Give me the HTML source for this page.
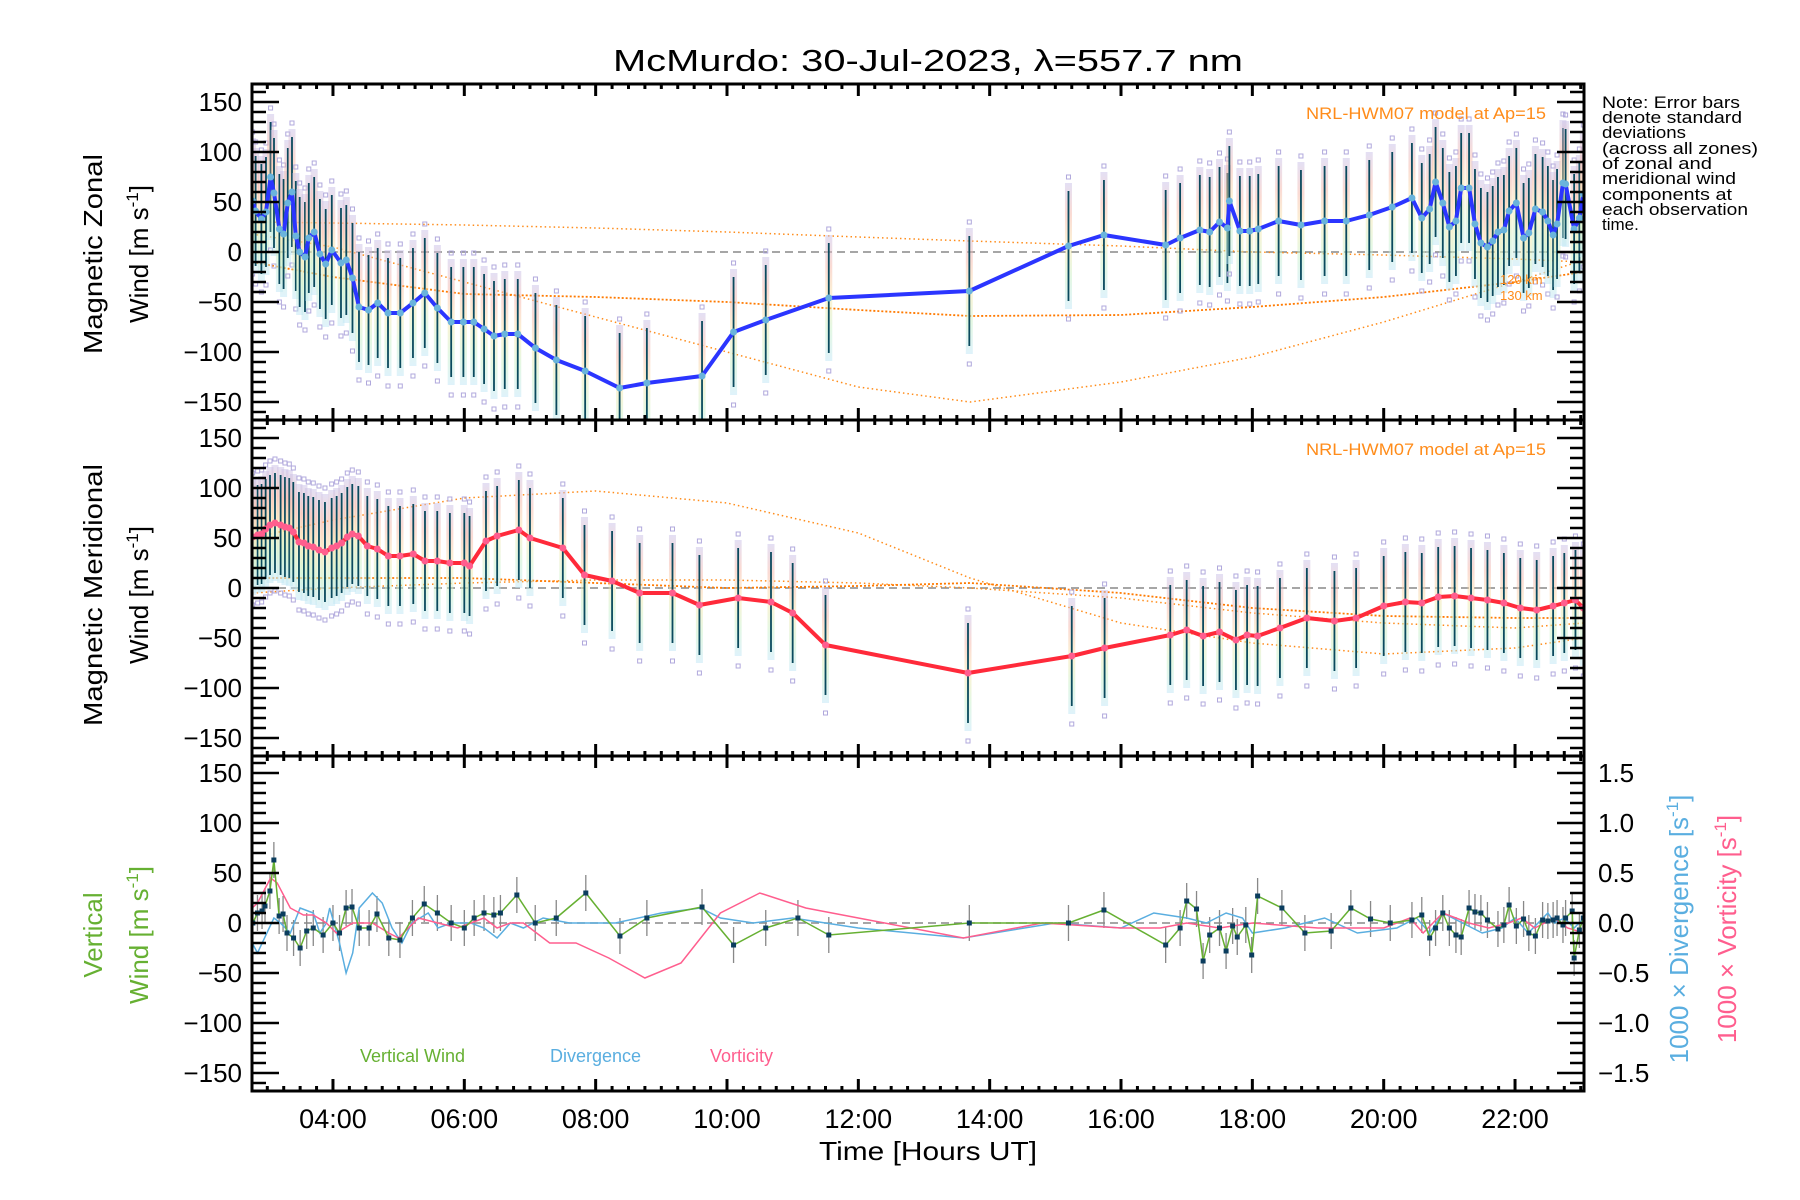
<!DOCTYPE html>
<html><head><meta charset="utf-8"><style>
html,body{margin:0;padding:0;background:#fff;}
svg{display:block;font-family:"Liberation Sans",sans-serif;}
</style></head><body>
<svg id="chart" width="1800" height="1200" viewBox="0 0 1800 1200" xmlns="http://www.w3.org/2000/svg">
<defs>
<linearGradient id="pastel" x1="0" y1="0" x2="0" y2="1">
<stop offset="0" stop-color="#c8c0e8"/><stop offset="0.25" stop-color="#f6b6a8"/><stop offset="0.5" stop-color="#f8e6a8"/><stop offset="0.75" stop-color="#c8f0c8"/><stop offset="1" stop-color="#bfe6f6"/>
</linearGradient>
<clipPath id="c1"><rect x="252" y="84" width="1332" height="336"/></clipPath>
<clipPath id="c2"><rect x="252" y="420" width="1332" height="336"/></clipPath>
<clipPath id="c3"><rect x="252" y="756" width="1332" height="335"/></clipPath>
</defs>
<text x="928" y="71" font-size="31" text-anchor="middle" textLength="630" lengthAdjust="spacingAndGlyphs">McMurdo: 30-Jul-2023, λ=557.7 nm</text>
<g id="g1" clip-path="url(#c1)"></g>
<g id="g2" clip-path="url(#c2)"></g>
<g id="g3" clip-path="url(#c3)"></g>
<g id="axes"></g>
<text x="1546" y="119" font-size="17" fill="#ff8c1a" text-anchor="end" textLength="240" lengthAdjust="spacingAndGlyphs">NRL-HWM07 model at Ap=15</text>
<text x="1546" y="455" font-size="17" fill="#ff8c1a" text-anchor="end" textLength="240" lengthAdjust="spacingAndGlyphs">NRL-HWM07 model at Ap=15</text>
<text x="1500" y="284" font-size="13" fill="#ff8c1a">120 km</text>
<text x="1500" y="300" font-size="13" fill="#ff8c1a">130 km</text>
<g font-size="17" fill="#000">
<text x="1602" y="108" textLength="138" lengthAdjust="spacingAndGlyphs">Note: Error bars</text>
<text x="1602" y="123" textLength="140" lengthAdjust="spacingAndGlyphs">denote standard</text>
<text x="1602" y="138" textLength="84" lengthAdjust="spacingAndGlyphs">deviations</text>
<text x="1602" y="154" textLength="156" lengthAdjust="spacingAndGlyphs">(across all zones)</text>
<text x="1602" y="169" textLength="110" lengthAdjust="spacingAndGlyphs">of zonal and</text>
<text x="1602" y="184" textLength="134" lengthAdjust="spacingAndGlyphs">meridional wind</text>
<text x="1602" y="200" textLength="130" lengthAdjust="spacingAndGlyphs">components at</text>
<text x="1602" y="215" textLength="146" lengthAdjust="spacingAndGlyphs">each observation</text>
<text x="1602" y="230">time.</text>
</g>
<text transform="translate(102,254) rotate(-90)" font-size="26" text-anchor="middle" textLength="200" lengthAdjust="spacingAndGlyphs">Magnetic Zonal</text>
<text transform="translate(148,254) rotate(-90)" font-size="26" text-anchor="middle">Wind [m s<tspan font-size="17" dy="-10">-1</tspan><tspan dy="10">]</tspan></text>
<text transform="translate(102,595) rotate(-90)" font-size="26" text-anchor="middle" textLength="262" lengthAdjust="spacingAndGlyphs">Magnetic Meridional</text>
<text transform="translate(148,595) rotate(-90)" font-size="26" text-anchor="middle">Wind [m s<tspan font-size="17" dy="-10">-1</tspan><tspan dy="10">]</tspan></text>
<text transform="translate(102,935) rotate(-90)" font-size="26" text-anchor="middle" fill="#66b032">Vertical</text>
<text transform="translate(148,935) rotate(-90)" font-size="26" text-anchor="middle" fill="#66b032">Wind [m s<tspan font-size="17" dy="-10">-1</tspan><tspan dy="10">]</tspan></text>
<text transform="translate(1688,929) rotate(-90)" font-size="26" text-anchor="middle" fill="#5aaee0">1000 × Divergence [s<tspan font-size="17" dy="-10">-1</tspan><tspan dy="10">]</tspan></text>
<text transform="translate(1736,929) rotate(-90)" font-size="26" text-anchor="middle" fill="#ff5e8e">1000 × Vorticity [s<tspan font-size="17" dy="-10">-1</tspan><tspan dy="10">]</tspan></text>
<text x="360" y="1062" font-size="18" fill="#66b032">Vertical Wind</text>
<text x="550" y="1062" font-size="18" fill="#5aaee0">Divergence</text>
<text x="710" y="1062" font-size="18" fill="#ff5e8e">Vorticity</text>
<text x="928" y="1160" font-size="26" text-anchor="middle" textLength="218" lengthAdjust="spacingAndGlyphs">Time [Hours UT]</text>
</svg>
<script>
// ---- data ----
const zonalT = [2.776,2.822,2.910,2.980,3.050,3.102,3.184,3.248,3.312,3.376,3.434,3.493,3.574,3.632,3.714,3.801,3.889,3.982,4.122,4.203,4.297,4.396,4.541,4.681,4.838,5.025,5.218,5.398,5.590,5.800,5.986,6.144,6.301,6.452,6.616,6.814,7.083,7.402,7.84,8.365,8.78,9.62,10.10,10.59,11.55,13.69,15.2,15.74,16.68,16.9,17.2,17.35,17.5,17.62,17.65,17.81,17.96,18.09,18.40,18.74,19.10,19.43,19.78,20.13,20.43,20.58,20.70,20.79,20.90,21.00,21.10,21.18,21.30,21.39,21.48,21.58,21.66,21.74,21.83,21.91,22.02,22.13,22.21,22.31,22.42,22.50,22.58,22.64,22.73,22.77,22.90,22.98,23.04];
const zonalV = [51,41,33,40,75,59,23,18,49,60,16,0,-5,14,20,-2,-12,2,-11,-8,-26,-55,-58,-51,-61,-61,-51,-41,-56,-70,-70,-70,-77,-84,-82,-82,-96,-108,-119,-136,-131,-124,-80,-68,-46,-39,6,17,7,14,22,20,30,24,51,21,21,23,31,27,31,31,37,45,54,34,43,70,49,25,31,64,64,28,9,5,11,20,22,41,49,14,19,43,40,31,17,28,69,68,23,34,58];
const meridT = [2.777,2.853,2.914,2.975,3.041,3.117,3.203,3.269,3.335,3.396,3.482,3.558,3.624,3.700,3.787,3.878,3.980,4.056,4.132,4.218,4.294,4.386,4.523,4.675,4.843,5.020,5.223,5.401,5.588,5.78,6.0,6.08,6.33,6.5,6.83,7.0,7.5,7.83,8.25,8.67,9.17,9.58,10.17,10.67,11.0,11.5,13.67,15.25,15.75,16.75,17.0,17.25,17.5,17.75,17.92,18.08,18.42,18.83,19.25,19.58,20.0,20.33,20.58,20.83,21.08,21.33,21.58,21.83,22.08,22.33,22.58,22.75,22.92,23.04];
const meridV = [51,53,54,59,63,65,63,61,60,56,46,45,42,41,38,36,40,42,45,51,54,52,42,39,32,32,34,27,27,25,25,22,47,52,58,50,40,13,7,-5,-5,-17,-10,-14,-25,-57,-85,-68,-60,-47,-42,-48,-44,-52,-47,-48,-40,-30,-33,-30,-18,-14,-15,-9,-8,-10,-12,-15,-20,-22,-18,-15,-12,-20];
const vertT = [2.78,2.85,2.92,2.965,3.04,3.10,3.18,3.24,3.3,3.4,3.5,3.6,3.7,3.85,4.0,4.1,4.2,4.29,4.4,4.55,4.67,4.85,5.02,5.21,5.39,5.59,5.8,6.0,6.15,6.3,6.45,6.55,6.8,7.08,7.4,7.85,8.37,8.78,9.62,10.1,10.59,11.08,11.55,13.69,15.2,15.74,16.68,16.9,17.0,17.15,17.25,17.35,17.5,17.6,17.7,17.77,17.9,17.99,18.08,18.45,18.8,19.2,19.5,19.8,20.1,20.43,20.58,20.7,20.79,20.9,21.0,21.1,21.18,21.3,21.39,21.48,21.58,21.74,21.83,21.91,22.02,22.13,22.21,22.31,22.42,22.5,22.58,22.64,22.73,22.77,22.87,22.9,22.98,23.04];
const vertV = [0,10,12,17,32,63,7,9,-10,-15,-25,-8,-5,-12,0,-10,15,16,-5,-5,9,-15,-17,5,19,10,0,-5,5,10,8,10,28,0,5,30,-13,5,16,-22,-5,5,-12,0,0,13,-22,-5,22,14,-38,-12,-5,-28,-3,-14,-2,-32,27,15,-10,-8,15,4,0,3,8,-15,-5,10,-5,-12,-14,15,11,10,3,-6,-2,18,-3,4,-10,-13,3,2,3,5,-2,5,12,-35,-7,5];
const divT = [2.77,2.85,3.1,3.2,3.35,3.5,3.7,3.8,3.9,3.95,4.1,4.2,4.3,4.4,4.6,4.75,4.9,5.05,5.2,5.45,5.6,5.8,6.1,6.3,6.5,6.7,6.9,7.2,7.6,8.3,9.0,9.6,9.9,10.4,11.0,12.0,13.6,15.0,16.0,16.5,17.0,17.3,17.6,17.85,18.0,18.5,19.1,19.6,20.2,20.5,20.7,20.9,21.2,21.5,21.8,22.0,22.2,22.5,22.6,22.75,22.9,23.05];
const divV = [-0.20,-0.30,0.05,0,-0.10,0.15,0.10,-0.10,0,0.15,-0.20,-0.50,-0.30,0.15,0.30,0.20,-0.05,-0.20,0,0.10,-0.05,0,0,-0.05,-0.15,0,-0.05,0.05,0,0,0.10,0.15,0.05,0,0.05,-0.05,-0.15,0,-0.05,0.10,0.05,0,0.10,0.05,-0.10,-0.05,0.05,-0.10,-0.05,0.05,-0.10,0.10,0,-0.10,-0.05,0.05,-0.10,0.10,0,0.05,-0.05,0.05];
const vorT = [2.77,2.85,3.05,3.15,3.35,3.55,3.7,3.9,4.05,4.3,4.6,4.85,5.0,5.3,5.6,5.9,6.1,6.3,6.5,6.7,6.9,7.3,7.7,8.2,8.75,9.3,9.9,10.5,11.2,12.0,13.6,14.8,16.0,16.6,17.0,17.5,18.0,19.0,20.0,20.4,20.6,20.9,21.3,21.6,21.9,22.1,22.3,22.6,22.8,23.05];
const vorV = [0.15,0.20,0.45,0.40,0.15,0.08,0.08,0,-0.10,0,0,-0.10,-0.15,0.05,0,-0.05,0,0.05,-0.05,0,0,-0.20,-0.20,-0.35,-0.55,-0.40,0.10,0.30,0.15,0.05,-0.15,0,-0.05,-0.05,0,-0.05,0,-0.05,-0.05,0.05,-0.10,0.10,0,-0.05,0,0.05,-0.05,0.05,-0.05,-0.10];
const modelT = [2.77,4,6,8,10,12,13.7,16,18,20,22,23.05];
const zModelA = [30,29,27,24,20,15,11,6,0,-3,-7,-10];
const zModelB = [18,5,-30,-65,-100,-135,-150,-130,-105,-70,-30,-8];
const zModelC = [-10,-25,-42,-45,-50,-58,-64,-63,-55,-45,-30,-20];
const mModelA = [50,68,90,97,85,55,10,-35,-55,-66,-60,-50];
const mModelB = [-5,0,5,8,8,5,0,-10,-25,-35,-40,-35];
const mModelC = [10,10,10,5,0,2,5,-5,-20,-28,-30,-30];
const errZonal = 55, errMerid = 50, errVert = 18;
const xTickHours = [4,6,8,10,12,14,16,18,20,22];
const xTickLabels = ["04:00","06:00","08:00","10:00","12:00","14:00","16:00","18:00","20:00","22:00"];
const yTickValues = [150,100,50,0,-50,-100,-150];
const yTickLabels = ["150","100","50","0","\u221250","\u2212100","\u2212150"];
const rTickValues = [1.5,1.0,0.5,0.0,-0.5,-1.0,-1.5];
const rTickLabels = ["1.5","1.0","0.5","0.0","\u22120.5","\u22121.0","\u22121.5"];

// ---- scales ----
const X0=252, X1=1584, T0=2.767, PXH=65.67;
const panelTop=[84,420,756], panelBot=[420,756,1091], zeroY=[252,588,923];
function xs(t){return X0+(t-T0)*PXH;}
function ys(p,v){return zeroY[p]-v;}
const NS="http://www.w3.org/2000/svg";
function mk(tag,parent,attrs){const e=document.createElementNS(NS,tag);for(const k in attrs)e.setAttribute(k,attrs[k]);parent.appendChild(e);return e;}
const g=[document.getElementById('g1'),document.getElementById('g2'),document.getElementById('g3')];
const axes=document.getElementById('axes');

for(let p=0;p<3;p++){
  const l=mk('line',g[p],{x1:X0,x2:X1,y1:ys(p,0),y2:ys(p,0),stroke:'#888',"stroke-width":1.5,"stroke-dasharray":"8,5"});
  
  
}

function polyline(p,T,V,scale,attrs,name){
  const pts=T.map((t,i)=>xs(t).toFixed(1)+","+ys(p,V[i]*scale).toFixed(1)).join(" ");
  const e=mk('polyline',g[p],Object.assign({points:pts,fill:'none'},attrs));
  
  
  return e;
}
polyline(0,modelT,zModelA,1,{stroke:'#ff8c1a',"stroke-width":1.5,"stroke-dasharray":"1.5,3"},'model-zonal-a');
polyline(0,modelT,zModelB,1,{stroke:'#ff8c1a',"stroke-width":1.5,"stroke-dasharray":"1.5,3"},'model-zonal-b');
polyline(0,modelT,zModelC,1,{stroke:'#ff7a00',"stroke-width":1.8,"stroke-dasharray":"2,2"},'model-zonal-c');
polyline(1,modelT,mModelA,1,{stroke:'#ff8c1a',"stroke-width":1.5,"stroke-dasharray":"1.5,3"},'model-meridional-a');
polyline(1,modelT,mModelB,1,{stroke:'#ff8c1a',"stroke-width":1.5,"stroke-dasharray":"1.5,3"},'model-meridional-b');
polyline(1,modelT,mModelC,1,{stroke:'#ff7a00',"stroke-width":1.8,"stroke-dasharray":"2,2"},'model-meridional-c');

function errorStack(p,T,V,err,name){
  T.forEach((t,i)=>{
    const x=xs(t), v=V[i];
    const r=mk('rect',g[p],{x:x-3.5,y:ys(p,v+err+8),width:7,height:2*err+16,fill:'url(#pastel)',opacity:0.5});
    
    
    const s1=mk('rect',g[p],{x:x-2,y:ys(p,v+err+16),width:4,height:4,fill:'none',stroke:'#b0a8dc',"stroke-width":1});
    
    
    const s2=mk('rect',g[p],{x:x-2,y:ys(p,v-err-16),width:4,height:4,fill:'none',stroke:'#b0a8dc',"stroke-width":1});
    
    
    const l=mk('line',g[p],{x1:x,x2:x,y1:ys(p,v+err),y2:ys(p,v-err),stroke:'#0b4a5e',"stroke-width":1.8});
    
    
  });
}
errorStack(0,zonalT,zonalV,errZonal,'zonal');
errorStack(1,meridT,meridV,errMerid,'meridional');

function markers(p,T,V,fill,r,name){
  T.forEach((t,i)=>{
    const c=mk('circle',g[p],{cx:xs(t),cy:ys(p,V[i]),r:r,fill:fill});
    
    
  });
}
polyline(0,zonalT,zonalV,1,{stroke:'#2b35ff',"stroke-width":4,"stroke-linejoin":"round"},'zonal-wind-line');
markers(0,zonalT,zonalV,'#6ab4dc',3.5,'zonal-point');
polyline(1,meridT,meridV,1,{stroke:'#ff2a3a',"stroke-width":4,"stroke-linejoin":"round"},'meridional-wind-line');
markers(1,meridT,meridV,'#ff5e8e',3.5,'meridional-point');

vertT.forEach((t,i)=>{
  const l=mk('line',g[2],{x1:xs(t),x2:xs(t),y1:ys(2,vertV[i]+errVert),y2:ys(2,vertV[i]-errVert),stroke:'#888',"stroke-width":1.3});
  
  
});
polyline(2,divT,divV,100,{stroke:'#5aaee0',"stroke-width":1.5},'divergence-line');
polyline(2,vorT,vorV,100,{stroke:'#ff5e8e',"stroke-width":1.5},'vorticity-line');
polyline(2,vertT,vertV,1,{stroke:'#66b032',"stroke-width":1.5},'vertical-wind-line');
vertT.forEach((t,i)=>{
  const r=mk('rect',g[2],{x:xs(t)-2.5,y:ys(2,vertV[i])-2.5,width:5,height:5,fill:'#0b3d5e'});
  
  
});

function ln(x1,y1,x2,y2,w,name){
  const l=mk('line',axes,{x1:x1,y1:y1,x2:x2,y2:y2,stroke:'#000',"stroke-width":w});
  
  
}
for(let p=0;p<3;p++){
  const top=panelTop[p], bot=panelBot[p];
  ln(X0,top,X1,top,3,'panel-top-axis');
  ln(X0,bot,X1,bot,3,'panel-bottom-axis');
  ln(X0,top-1.5,X0,bot+1.5,3,'panel-left-axis');
  ln(X1,top-1.5,X1,bot+1.5,3,'panel-right-axis');
  for(let v=-160;v<=160;v+=10){
    const y=ys(p,v); if(y<top+1||y>bot-1) continue;
    const L=(v%50===0)?27:14;
    ln(X0,y,X0+L,y,2.5,'y-tick');
    if(p<2) ln(X1,y,X1-L,y,2.5,'right-y-tick');
  }
  if(p===2){
    for(let k=-16;k<=16;k++){
      const y=ys(2,k*10); if(y<top+1||y>bot-1) continue;
      ln(X1,y,X1-((k%5===0)?27:14),y,2.5,'right-y-tick');
    }
  }
  yTickValues.forEach((v,i)=>{
    const t=mk('text',axes,{x:X0-10,y:ys(p,v)+9,"font-size":26,"text-anchor":"end"});
    t.textContent=yTickLabels[i];
    
    
  });
  for(let h=3;h<=23;h+=0.25){
    const x=xs(h); if(x<X0+2||x>X1-2) continue;
    const major=xTickHours.indexOf(h)>=0;
    const L=major?12:5;
    ln(x,top,x,top+L,3,'x-tick');
    ln(x,bot,x,bot-L,3,'x-tick');
  }
}
rTickValues.forEach((v,i)=>{
  const t=mk('text',axes,{x:X1+14,y:ys(2,v*100)+9,"font-size":26,"text-anchor":"start"});
  t.textContent=rTickLabels[i];
  
  
});
xTickHours.forEach((h,i)=>{
  const t=mk('text',axes,{x:xs(h),y:1128,"font-size":27,"text-anchor":"middle"});
  t.textContent=xTickLabels[i];
  
  
});
</script>
</body></html>
